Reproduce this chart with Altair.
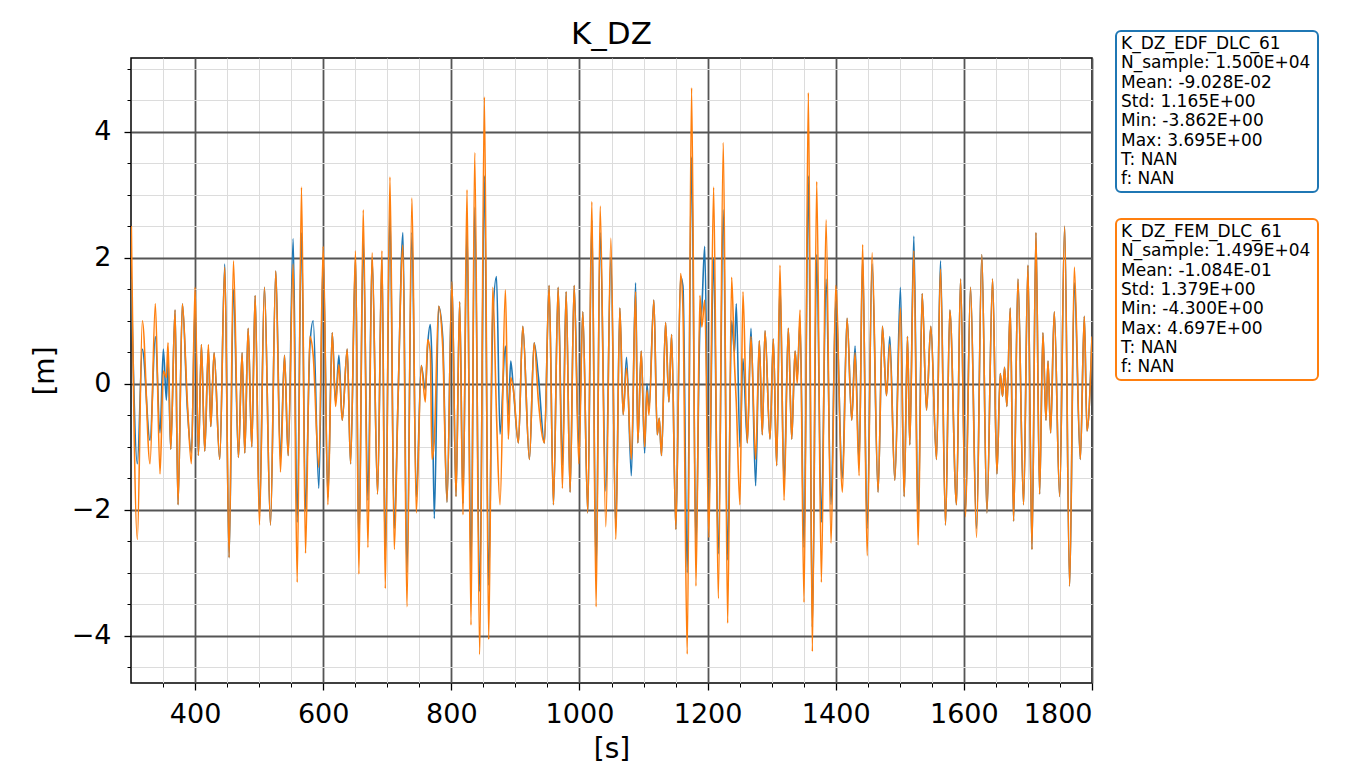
import altair as alt
import pandas as pd

# time [s]
t = [300.5, 309.9, 317.7, 329.7, 338.0, 345.3, 350.5, 355.2, 357.8, 362.0, 368.8, 373.4, 380.2, 388.0, 394.3,
     400.0, 405.2, 409.9, 415.1, 420.8, 424.5, 429.7, 438.5, 446.4, 453.1, 459.9, 467.7, 473.4, 477.6, 482.8, 488.5,
     493.8, 500.5, 508.3, 517.7, 526.0, 533.3, 539.6, 545.3, 553.1, 559.4, 566.1, 572.4, 579.2, 584.4, 593.2,
     600.0, 607.3, 614.1, 619.3, 624.5, 629.7, 637.5, 642.7, 650.5, 655.7, 662.5, 669.8, 676.3, 684.9, 691.7, 696.9,
     704.2, 710.9, 716.7, 724.5, 730.7, 738.5, 745.3, 753.1, 759.4, 763.0, 767.2, 769.8, 773.4, 780.2, 786.5, 793.2,
     801.0, 807.3, 813.0, 818.2, 824.5, 830.7, 836.5, 844.3, 851.6, 858.3, 864.6, 870.5, 876.0, 884.4, 889.0, 892.7,
     897.0, 904.7, 911.5, 921.9, 929.2, 936.0, 945.3, 952.6, 959.4, 966.7, 973.4, 979.2, 985.4, 991.7, 999.0,
     1005.2, 1013.0, 1019.3, 1026.0, 1032.3, 1041.1, 1049.0, 1056.8, 1063.0, 1068.2, 1073.5, 1081.0, 1087.6, 1091.1,
     1096.4, 1101.7, 1105.3, 1108.5, 1116.1, 1121.4, 1124.5, 1128.1, 1134.4, 1139.6, 1143.8, 1150.5, 1157.8, 1161.5,
     1168.2, 1175.0, 1181.8, 1188.0, 1191.0, 1195.5, 1202.0, 1209.4, 1216.7, 1224.5, 1231.3, 1237.5, 1242.0, 1244.8,
     1250.5, 1255.2, 1262.0, 1267.7, 1275.0, 1280.7, 1285.4, 1289.6, 1297.4, 1302.6, 1307.8, 1313.0, 1319.3, 1326.0,
     1331.3, 1336.5, 1340.0, 1344.3, 1350.5, 1357.3, 1363.5, 1370.3, 1377.6, 1384.9, 1392.7, 1400.0, 1410.4, 1417.7,
     1425.0, 1430.2, 1436.5, 1442.0, 1449.0, 1456.8, 1466.1, 1472.9, 1479.2, 1484.4, 1492.2, 1501.0, 1506.8, 1512.0,
     1515.6, 1521.9, 1528.6, 1534.9, 1541.7, 1548.4, 1557.3, 1563.5, 1571.4, 1578.1, 1588.5, 1594.8, 1602.6, 1610.4,
     1619.8, 1628.0, 1636.0, 1644.8, 1651.6, 1656.8, 1660.4, 1663.5, 1667.2, 1672.4, 1677.6, 1684.4, 1693.2, 1700.0,
     1706.3, 1712.5, 1718.2, 1723.4, 1728.1, 1731.3, 1735.4, 1741.1, 1749.5, 1757.3, 1765.1, 1772.4, 1781.8, 1788.0,
     1792.2, 1800.0]

# K_DZ_FEM_DLC_61 [m]
fem = [2.50, -2.47, 1.00, -1.27, 1.27, -1.43, 0.20, 0.10, 0.65, -1.04, 1.17, -1.92, 1.27, -0.30, -1.27,
       1.53, -1.14, 0.62, -1.07, 0.62, -0.68, 0.49, -1.20, 1.85, -2.76, 1.95, -1.17, 0.49, -1.10, 0.88, -1.00,
       1.40, -2.24, 1.53, -2.24, 1.79, -1.40, 0.45, -1.14, 1.90, -3.15, 3.12, -2.69, 0.75, 0.45, -1.33,
       2.18, -1.92, 0.81, -0.36, 0.30, -0.58, 0.55, -1.27, 2.11, -3.02, 2.76, -2.60, 2.08, -1.75, 2.11, -3.25,
       3.28, -2.63, -0.29, 2.20, -3.54, 2.95, -2.05, 0.29, -0.29, 0.70, 0.50, -1.20, -0.90, 1.23, 0.60, -1.88,
       1.62, -1.79, 1.30, -2.08, 3.08, -3.83, 3.67, -4.30, 4.55, -4.06, 1.53, -0.50, -1.92, 1.49, -0.88, 0.10,
       -0.10, -0.94, 0.91, -1.20, 0.65, -0.29, -0.94, 1.56, -1.92, 1.53, -1.66, 1.46, -1.72, 1.56, -1.27,
       1.14, -2.05, 2.89, -3.54, 2.82, -2.27, 2.31, -2.47, 1.20, -0.49, 0.25, -1.20, 1.46, -0.94,
       0.52, -1.00, -0.10, -0.50, 1.33, -0.81, -0.55, -1.14, 0.97, -0.29, 0.78, -2.31, 1.75, 1.20,
       -4.29, 4.697, -3.21, 1.40, 0.90, 1.33, -2.44, 3.12, -3.41, 3.83, -3.80, 1.69, 0.30, -0.30,
       -1.92, 1.46, -0.94, 0.75, -1.20, 0.68, -0.81, 0.84, -0.88, 0.71, -1.30, 1.88, -1.85, 0.88,
       -0.88, 0.52, 0.00, 1.17, -3.47, 4.62, -4.25, 3.21, -3.15, 2.60, -2.53, 1.56, -1.72, 1.04,
       -0.58, 0.49, -1.46, 2.21, -2.73, 2.08, -1.72, 0.91, -0.19, 0.62, -1.53, 1.20, -1.79, 0.75,
       -0.97, 2.11, -2.56, 1.43, -0.42, 0.91, -1.20, 1.82, -2.24, 1.17, -1.92, 1.66, -2.11, 1.53,
       -2.44, 2.05, -2.05, 1.66, -1.43, 0.16, -0.20, 0.26, -0.36, 1.20, -2.18, 1.66, -1.92, 1.88,
       -2.63, 2.40, -1.75, 0.81, -0.58, 0.36, -0.78, 1.14, -1.79, 2.50, -3.21, 1.85, -1.20, 1.07,
       -0.75, 0.75]

# K_DZ_EDF_DLC_61 [m]
edf = [1.66, -1.27, 0.55, -0.90, 0.75, -0.78, 0.55, -0.26, 0.40, -1.04, 1.17, -1.92, 1.27, -0.40, -1.10,
       1.20, -1.14, 0.62, -1.07, 0.55, -0.68, 0.49, -1.20, 1.90, -2.76, 1.50, -1.17, 0.49, -1.10, 0.88, -1.00,
       1.40, -2.10, 1.53, -2.24, 1.79, -1.20, 0.45, -1.14, 2.30, -2.20, 2.40, -2.00, 0.60, 1.00, -1.66,
       2.00, -1.80, 0.81, -0.30, 0.45, -0.58, 0.55, -1.27, 2.00, -2.60, 2.30, -1.85, 2.00, -1.75, 2.00, -2.80,
       2.75, -2.30, -0.29, 2.40, -3.00, 2.40, -1.80, 0.29, -0.10, 0.60, 0.94, 0.30, -2.14, 1.23, 0.75, -1.88,
       1.62, -1.79, 1.30, -1.90, 2.50, -3.00, 2.80, -3.30, 3.30, -3.20, 1.00, 1.70, -0.80, 0.60, -0.50, 0.36,
       -0.10, -0.94, 0.91, -1.20, 0.65, 0.10, -0.94, 1.56, -1.92, 1.53, -1.30, 1.46, -1.72, 1.56, -1.00,
       1.14, -2.05, 2.60, -3.00, 2.40, -1.70, 2.00, -2.30, 1.20, -0.49, 0.42, -1.46, 1.60, -0.94,
       0.52, -1.10, 0.00, -0.40, 1.33, -0.81, -0.55, -1.14, 0.97, -0.29, 0.78, -2.31, 1.70, 1.55,
       -3.00, 3.60, -2.60, 0.90, 1.20, 2.18, -2.00, 2.00, -2.70, 2.76, -2.80, 1.00, 0.50, 1.27,
       -1.00, 0.40, -0.94, 0.88, -1.62, 0.68, -0.81, 0.84, -0.88, 0.71, -1.30, 1.60, -1.60, 0.88,
       -0.88, 0.52, 0.10, 1.00, -2.60, 3.30, -3.862, 2.05, -2.20, 1.66, -1.92, 1.30, -1.50, 1.04,
       -0.58, 0.60, -1.27, 2.00, -2.30, 1.90, -1.72, 0.91, -0.19, 0.75, -1.53, 1.53, -1.79, 0.75,
       -0.97, 2.34, -2.20, 1.43, -0.42, 0.91, -1.20, 1.95, -2.24, 1.17, -1.92, 1.66, -2.00, 1.53,
       -2.30, 2.05, -2.05, 1.66, -1.43, 0.16, -0.20, 0.26, -0.36, 1.20, -2.18, 1.66, -1.92, 1.88,
       -2.63, 2.40, -1.75, 0.81, -0.58, 0.36, -0.78, 1.14, -1.79, 2.50, -3.21, 1.60, -1.20, 1.07,
       -0.75, 0.75]

# tick values
x_major = [400, 600, 800, 1000, 1200, 1400, 1600, 1800]
x_minor = [350, 450, 500, 550, 650, 700, 750, 850, 900, 950, 1050, 1100, 1150, 1250, 1300, 1350,
           1450, 1500, 1550, 1650, 1700, 1750]
y_major = [-4, -2, 0, 2, 4]
y_minor = [-4.5, -3.5, -3, -2.5, -1.5, -1, -0.5, 0.5, 1, 1.5, 2.5, 3, 3.5, 4.5, 5]

# statistics boxes
edf_stats = ["K_DZ_EDF_DLC_61", "N_sample: 1.500E+04", "Mean: -9.028E-02", "Std: 1.165E+00",
             "Min: -3.862E+00", "Max: 3.695E+00", "T: NAN", "f: NAN"]
fem_stats = ["K_DZ_FEM_DLC_61", "N_sample: 1.499E+04", "Mean: -1.084E-01", "Std: 1.379E+00",
             "Min: -4.300E+00", "Max: 4.697E+00", "T: NAN", "f: NAN"]

BLUE = "#1f77b4"
ORANGE = "#ff7f0e"
FONT = "DejaVu Sans"

df = pd.DataFrame({"t": t, "EDF": edf, "FEM": fem})

xscale = alt.Scale(domain=[300, 1800], nice=False, zero=False)
yscale = alt.Scale(domain=[-4.75, 5.17], nice=False, zero=False)

neg_label = "datum.value < 0 ? '\u2212' + format(abs(datum.value), 'd') : format(datum.value, 'd')"

blue_line = alt.Chart(df).mark_line(color=BLUE, strokeWidth=1.6, interpolate="monotone", clip=True).encode(
    x=alt.X("t:Q", scale=xscale,
            axis=alt.Axis(values=x_minor, labels=False, tickSize=4, tickWidth=1, tickColor="black",
                          grid=True, gridColor="#dcdcdc", gridWidth=1, domain=False, title=None,
                          orient="bottom")),
    y=alt.Y("EDF:Q", scale=yscale,
            axis=alt.Axis(values=y_minor, labels=False, tickSize=4, tickWidth=1, tickColor="black",
                          grid=True, gridColor="#dcdcdc", gridWidth=1, domain=False, title=None,
                          orient="left")),
)

orange_line = alt.Chart(df).mark_line(color=ORANGE, strokeWidth=1.6, interpolate="monotone", clip=True).encode(
    x=alt.X("t:Q", scale=xscale,
            axis=alt.Axis(values=x_major, format="d", tickSize=7, tickWidth=1.3, tickColor="black",
                          grid=True, gridColor="#555555", gridWidth=1.8, domain=False,
                          title="[s]", titleFontSize=28, titlePadding=8,
                          labelFontSize=27, labelPadding=11, orient="bottom")),
    y=alt.Y("FEM:Q", scale=yscale,
            axis=alt.Axis(values=y_major, labelExpr=neg_label, tickSize=7, tickWidth=1.3, tickColor="black",
                          grid=True, gridColor="#555555", gridWidth=1.8, domain=False,
                          title="[m]", titleFontSize=28, titlePadding=12,
                          labelFontSize=27, labelPadding=13, orient="left")),
)

one = pd.DataFrame({"k": [0]})


def stats_box(lines, color, top):
    box = alt.Chart(one).mark_rect(fill="white", stroke=color, strokeWidth=2, cornerRadius=5).encode(
        x=alt.value(985), x2=alt.value(1187), y=alt.value(top), y2=alt.value(top + 161))
    txt = alt.Chart(one).mark_text(align="left", baseline="top", font=FONT, fontSize=17,
                                   lineHeight=19.3, color="black").encode(
        x=alt.value(990), y=alt.value(top + 5), text=alt.value(lines))
    return box + txt


chart = alt.layer(
    blue_line, orange_line,
    stats_box(edf_stats, BLUE, -27),
    stats_box(fem_stats, ORANGE, 161),
).resolve_axis(x="independent", y="independent").properties(
    width=961, height=625,
    autosize=alt.AutoSizeParams(type="none"),
    padding={"left": 131, "top": 58, "right": 256, "bottom": 87},
    title=alt.TitleParams("K_DZ", fontSize=31, font=FONT, fontWeight="normal", offset=8, dy=29,
                          anchor="middle", color="black"),
    background="white",
).configure_view(stroke="black", strokeWidth=1.5).configure_axis(
    labelFont=FONT, titleFont=FONT, labelColor="black", titleColor="black", titleFontWeight="normal"
)

chart.save("out.html", embed_options={"renderer": "svg", "actions": False})
